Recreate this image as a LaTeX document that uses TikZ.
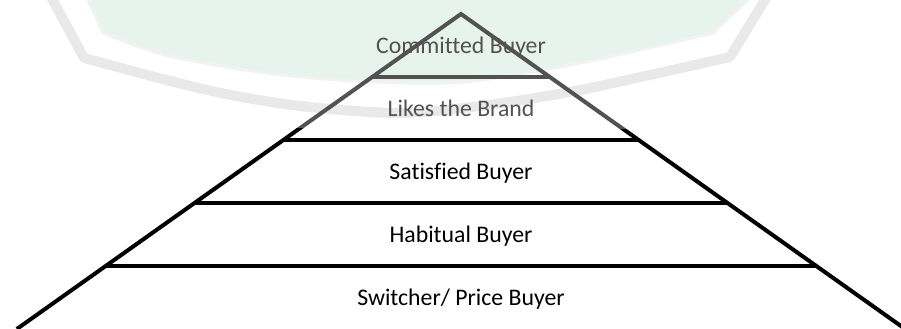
\documentclass[tikz,border=0pt]{standalone}
\usepackage{fontspec}
\setmainfont{Carlito}[Ligatures=NoCommon]
\usetikzlibrary{calc}
\definecolor{emblemgreen}{RGB}{221,240,230}
\tikzset{
  tierlabel/.style={font=\fontsize{20.3}{24}\selectfont, anchor=base, inner sep=0pt},
  emblemband/.style={draw=black!12, line width=0.3cm, line join=round},
}
\begin{document}
\begin{tikzpicture}[x=0.03cm, y=-0.03cm, line width=0.12cm]
    \useasboundingbox (0,0) rectangle (901,328);
    \clip (0,0) rectangle (901,328);
    % faint emblem behind the top tiers
    \fill[emblemgreen, draw=black!7, line width=0.09cm]
        (86,-5) -- plot[smooth] coordinates {(103,33) (173,57) (300,77) (450,83) (580,63) (713,33)} -- (753,-5) -- cycle;
    \draw[emblemband]
        (50,-5) -- plot[smooth] coordinates {(84,58) (207,90) (300,106) (400,113) (480,106) (580,90) (730,57)} -- (768,-5);
    % tiers of the pyramid
    \coordinate (top) at (461,14);
    \coordinate (bl) at (16.85,329);
    \coordinate (br) at (905.15,329);
    \foreach \k/\name/\txt in {1/committed/{Committed Buyer}, 2/likes/{Likes the Brand},
        3/satisfied/{Satisfied Buyer}, 4/habitual/{Habitual Buyer}, 5/switcher/{Switcher/ Price Buyer}}
        \node[tierlabel] (\name) at (461,{63*\k-10}) {\txt};
    \draw[line join=miter] (bl) -- (top) -- (br);
    \foreach \k in {1,...,4}
        \draw ($(top)!\k/5!(bl)$) -- ($(top)!\k/5!(br)$);
    % emblem washes over the upper part
    \fill[white, opacity=0.32]
        (30,-5) -- (66,62) .. controls (150,110) and (250,128) .. (330,129) -- (620,129)
        .. controls (680,129) and (730,90) .. (752,60) -- (790,-5) -- cycle;
\end{tikzpicture}
\end{document}
